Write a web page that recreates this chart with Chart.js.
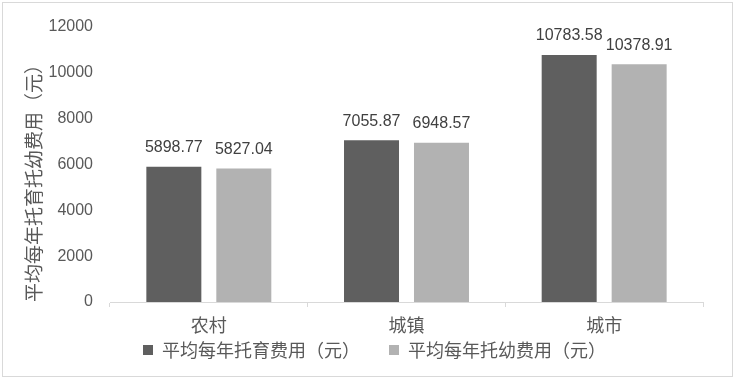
<!DOCTYPE html>
<html>
<head>
<meta charset="utf-8">
<script src="https://cdn.jsdelivr.net/npm/chart.js@4"></script>
<style>
  html, body { margin: 0; padding: 0; background: #ffffff; }
  canvas { display: block; }
</style>
</head>
<body>
<canvas id="c" width="737" height="378"></canvas>
<script>
// ---- data ----
const categories = ['农村', '城镇', '城市'];
const seriesNames = ['平均每年托育费用（元）', '平均每年托幼费用（元）'];
const nurseryCost = [5898.77, 7055.87, 10783.58];
const kindergartenCost = [5827.04, 6948.57, 10378.91];
const yAxisTitle = '平均每年托育托幼费用（元）';
const yMin = 0;
const yMax = 12000;
const yStep = 2000;

// ---- styles ----
const darkGray = '#5f5f5f';
const lightGray = '#b2b2b2';
const textGray = '#595959';
const labelGray = '#404040';
const lineGray = '#d9d9d9';
const numFont = "'Liberation Sans', 'Noto Sans CJK SC', sans-serif";
const cjkFont = "'Noto Sans CJK SC', sans-serif";

const framePlugin = {
  id: 'frame',
  beforeDraw(chart) {
    const ctx = chart.ctx;
    ctx.save();
    ctx.fillStyle = '#ffffff';
    ctx.fillRect(0, 0, chart.width, chart.height);
    ctx.strokeStyle = lineGray;
    ctx.lineWidth = 1;
    ctx.strokeRect(2.5, 2.5, 730, 374);
    ctx.restore();
  }
};

const valueLabels = {
  id: 'valueLabels',
  afterDatasetsDraw(chart) {
    const ctx = chart.ctx;
    ctx.save();
    ctx.font = '16px ' + numFont;
    ctx.fillStyle = labelGray;
    ctx.textAlign = 'center';
    ctx.textBaseline = 'middle';
    chart.data.datasets.forEach((ds, di) => {
      const meta = chart.getDatasetMeta(di);
      meta.data.forEach((bar, i) => {
        ctx.fillText(ds.data[i].toFixed(2), bar.x, bar.y - 19);
      });
    });
    ctx.restore();
  }
};

new Chart(document.getElementById('c'), {
  type: 'bar',
  data: {
    labels: categories,
    datasets: [
      { label: seriesNames[0], data: nurseryCost, backgroundColor: darkGray, borderWidth: 0 },
      { label: seriesNames[1], data: kindergartenCost, backgroundColor: lightGray, borderWidth: 0 }
    ]
  },
  options: {
    responsive: false,
    animation: false,
    devicePixelRatio: 1,
    categoryPercentage: 0.708,
    barPercentage: 0.786,
    layout: { padding: { left: 12, right: 0, top: 27, bottom: 9 } },
    plugins: {
      legend: {
        position: 'bottom',
        align: 'center',
        labels: {
          boxWidth: 10,
          boxHeight: 10,
          padding: 29,
          color: textGray,
          font: { family: cjkFont, size: 18 }
        }
      },
      tooltip: { enabled: false }
    },
    scales: {
      x: {
        offset: true,
        grid: {
          display: true,
          offset: true,
          drawOnChartArea: false,
          drawTicks: true,
          tickLength: 5,
          color: lineGray,
          lineWidth: 1
        },
        border: { display: true, color: lineGray, width: 1 },
        ticks: {
          color: textGray,
          font: { family: cjkFont, size: 18 },
          mirror: true,
          padding: -34,
          maxRotation: 0,
          minRotation: 0
        },
        afterFit(scale) { scale.height = 10; }
      },
      y: {
        position: 'left',
        min: yMin,
        max: yMax,
        ticks: {
          stepSize: yStep,
          color: textGray,
          font: { family: numFont, size: 16 },
          padding: 17,
          callback: (v) => String(v)
        },
        grid: { display: false, drawTicks: false },
        border: { display: false },
        title: {
          display: true,
          text: yAxisTitle,
          align: 'start',
          color: textGray,
          font: { family: cjkFont, size: 19 },
          padding: { top: 10, bottom: 0 }
        },
        afterFit(scale) { scale.width = 98; }
      },
      yRight: {
        position: 'right',
        display: true,
        ticks: { display: false },
        grid: { display: false, drawTicks: false },
        border: { display: false },
        afterFit(scale) { scale.width = 34; }
      }
    }
  },
  plugins: [framePlugin, valueLabels]
});
</script>
</body>
</html>
